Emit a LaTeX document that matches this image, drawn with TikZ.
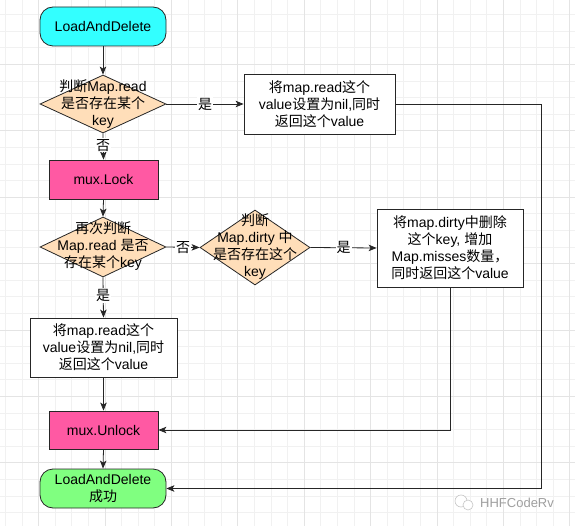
\documentclass[tikz,border=0pt]{standalone}
\usepackage{fontspec}
\setmainfont{Liberation Sans}
\newfontfamily\cjk{Noto Sans CJK SC}
\usetikzlibrary{shapes.geometric,arrows.meta}
\newcommand\zh[1]{{\cjk #1}}
\definecolor{cyanfill}{HTML}{33FFFF}
\definecolor{peach}{HTML}{FFDEB9}
\definecolor{pinkfill}{HTML}{FF59A3}
\definecolor{greenfill}{HTML}{80FF80}
\definecolor{gridminor}{HTML}{F1F1F1}
\definecolor{gridmajor}{HTML}{E4E4E4}
\definecolor{edge}{HTML}{262626}
\tikzset{
  txt/.style={font=\fontsize{14}{17}\selectfont, align=center, inner sep=0pt},
  shp/.style={draw=edge, line width=0.8pt, inner sep=0pt},
  term/.style={shp, rounded corners=13pt, minimum width=126pt, minimum height=39pt, txt},
  procbox/.style={shp, rectangle, txt},
  dia/.style={shp, diamond, fill=peach},
  arr/.style={draw=edge, line width=0.8pt, -{Stealth[length=8pt,width=6.5pt,inset=2pt]}},
  lbl/.style={fill=white, font=\fontsize{14}{17}\selectfont, inner sep=1pt}
}
\begin{document}
\begin{tikzpicture}[x=1pt,y=-1pt]
\useasboundingbox (0,0) rectangle (575,526);
\fill[white] (0,0) rectangle (575,526);
% grid
\foreach \i in {0,...,34} {
  \pgfmathsetmacro\xx{5.3+16.6*\i}
  \draw[gridminor, line width=0.7pt] (\xx,0) -- (\xx,526);
}
\foreach \i in {0,...,31} {
  \pgfmathsetmacro\yy{-2.1+16.6*\i}
  \draw[gridminor, line width=0.7pt] (0,\yy) -- (575,\yy);
}
\foreach \i in {0,...,8} {
  \pgfmathsetmacro\xx{38.5+66.4*\i}
  \draw[gridmajor, line width=0.8pt] (\xx,0) -- (\xx,526);
}
\foreach \i in {0,...,7} {
  \pgfmathsetmacro\yy{64.3+66.4*\i}
  \draw[gridmajor, line width=0.8pt] (0,\yy) -- (575,\yy);
}

% nodes
\node[term, fill=cyanfill] (start) at (103,26.5) {LoadAndDelete};

\node[dia, minimum width=126pt, minimum height=58pt] (d1) at (103,104) {};
\node[txt] (d1t) at (103,104.5) {\zh{判断}Map.read\\\zh{是否存在某个}\\key};

\node[procbox, fill=white, minimum width=151pt, minimum height=60pt] (b1) at (319.5,104)
  {\zh{将}map.read\zh{这个}\\value\zh{设置为}nil,\zh{同时}\\\zh{返回这个}value};

\node[procbox, fill=pinkfill, minimum width=109pt, minimum height=39pt] (lock) at (103.5,179.5) {mux.Lock};

\node[dia, minimum width=126pt, minimum height=60pt] (d2) at (103,247) {};
\node[txt] (d2t) at (103,246.5) {\zh{再次判断}\\Map.read \zh{是否}\\\zh{存在某个}key};

\node[dia, minimum width=110pt, minimum height=75pt] (d3) at (255,247.5) {};
\node[txt] (d3t) at (255,246.5) {\zh{判断}\\Map.dirty \zh{中}\\\zh{是否存在这个}\\key};

\node[procbox, fill=white, minimum width=146pt, minimum height=78pt] (b3) at (450,248)
  {\zh{将}map.dirty\zh{中删除}\\\zh{这个}key, \zh{增加}\\Map.misses\zh{数量，}\\\zh{同时返回这个}value};

\node[procbox, fill=white, minimum width=147pt, minimum height=59pt] (b2) at (103.5,347.5)
  {\zh{将}map.read\zh{这个}\\value\zh{设置为}nil,\zh{同时}\\\zh{返回这个}value};

\node[procbox, fill=pinkfill, minimum width=109pt, minimum height=38pt] (unlock) at (103.5,430) {mux.Unlock};

\node[term, fill=greenfill] (end) at (103,488.5) {LoadAndDelete\\\zh{成功}};

% connectors
\draw[arr] (start) -- (d1);
\draw[arr] (d1.east) -- node[lbl] {\zh{是}} (b1.west);
\draw[arr] (d1.south) -- node[lbl, pos=0.45] {\zh{否}} (lock.north);
\draw[arr] (lock.south) -- (d2.north);
\draw[arr] (d2.east) -- node[lbl, pos=0.5] {\zh{否}} (d3.west);
\draw[arr] (d3.east) -- node[lbl] {\zh{是}} (b3.west);
\draw[arr] (d2.south) -- node[lbl, pos=0.45] {\zh{是}} (b2.north);
\draw[arr] (b2.south) -- (unlock.north);
\draw[arr] (unlock.south) -- (end.north);
\coordinate (r1) at (541,104);
\draw[arr] (b1.east) -- (r1) |- (end.east);
\draw[arr] (b3.south) |- (unlock.east);

% watermark
\draw[gray!45, line width=0.6pt, fill=white] (461,501) circle (6);
\draw[gray!45, line width=0.6pt, fill=white] (468,505) circle (5);
\node[font=\fontsize{13}{15}\selectfont, text=gray!75, anchor=west, inner sep=0pt] (wm) at (480,503) {HHFCodeRv};
\end{tikzpicture}
\end{document}
